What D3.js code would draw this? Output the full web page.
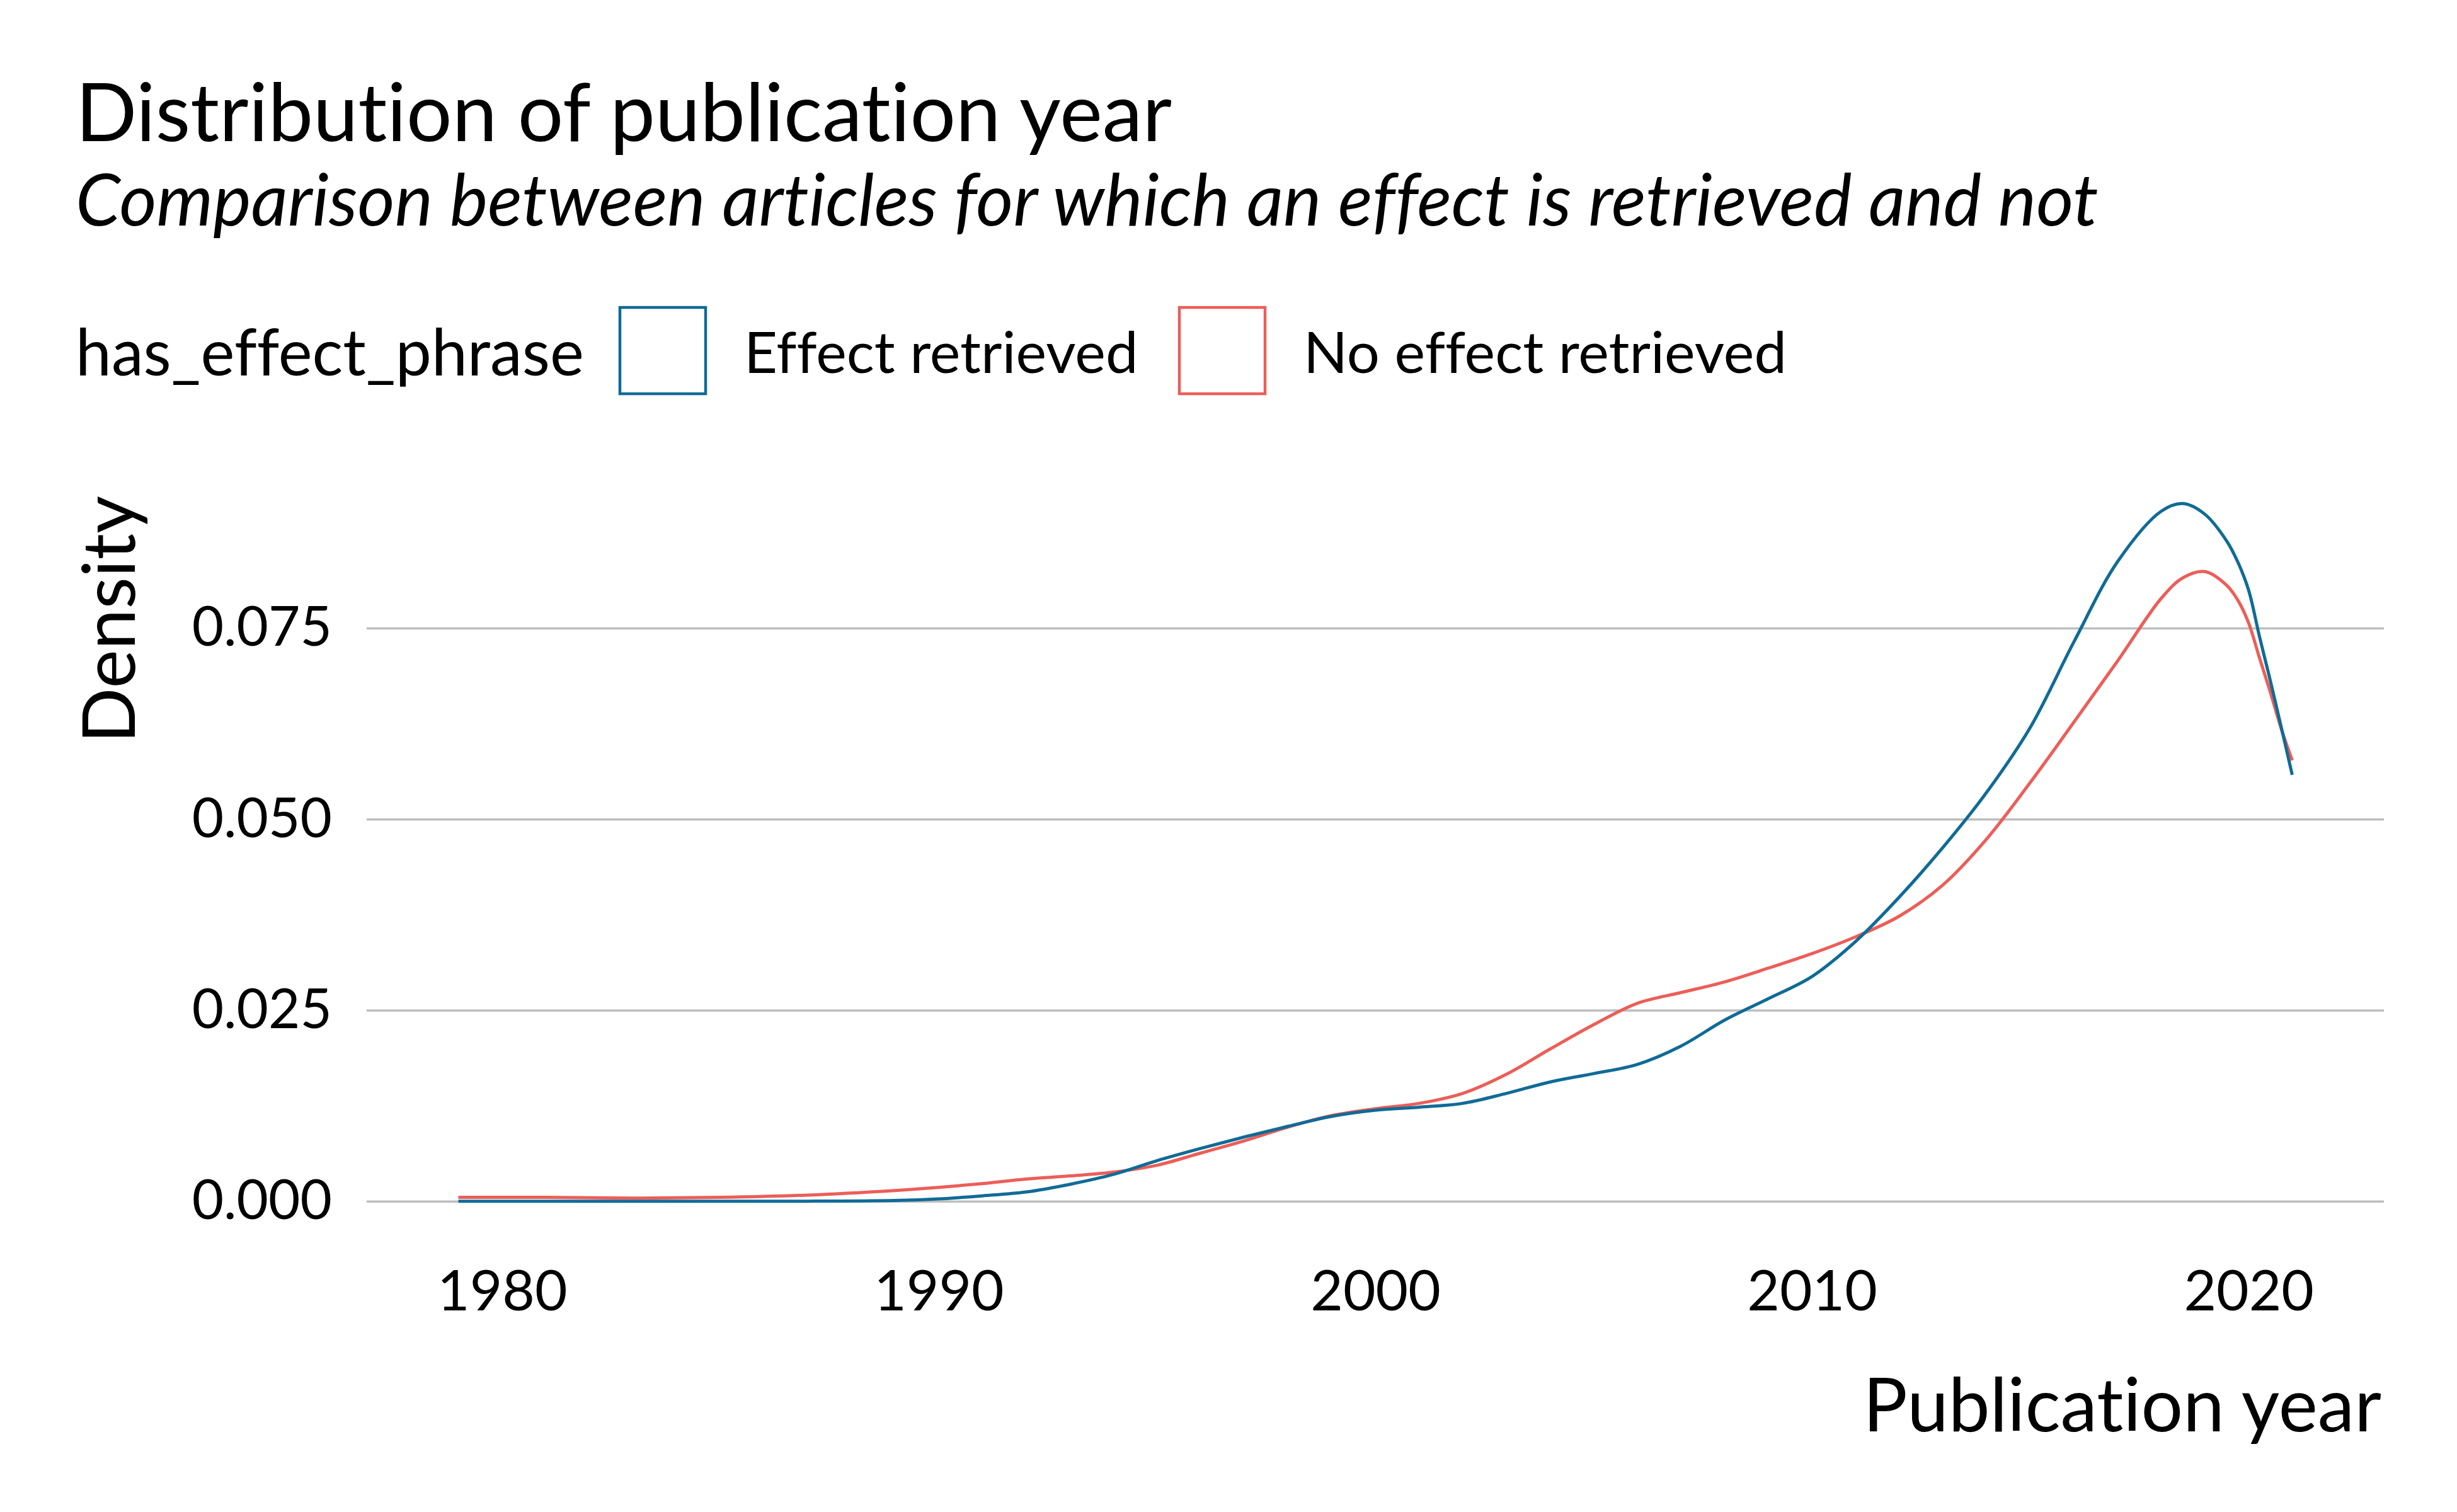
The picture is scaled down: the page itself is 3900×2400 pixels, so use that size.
<!DOCTYPE html>
<html>
<head>
<meta charset="utf-8">
<script src="https://cdn.jsdelivr.net/npm/d3@7"></script>
<style>
  html, body { margin: 0; padding: 0; background: #fff; }
  svg { display: block; font-family: Lato, "Open Sans", sans-serif; font-variant-ligatures: none; }
</style>
</head>
<body>
<div id="chart"></div>
<script>
// density estimates
const years = [1979, 1981, 1983, 1985, 1987, 1989, 1990, 1991, 1992, 1993, 1994, 1995, 1996, 1997, 1998, 1999,
    2000, 2001, 2002, 2003, 2004, 2005, 2006, 2007, 2008, 2009, 2010, 2011, 2012, 2013, 2014, 2015, 2016,
    2017, 2018, 2018.5, 2019, 2019.5, 2019.75, 2020, 2020.25, 2020.5, 2020.75, 2021];
const effectDensity = [0, 0, 0, 0, 0, 0.0001, 0.0003, 0.0007, 0.0012, 0.0022, 0.0035, 0.0053, 0.0069, 0.0084, 0.0098, 0.0111,
    0.0119, 0.0123, 0.0128, 0.0141, 0.0156, 0.0167, 0.0179, 0.0203, 0.0237, 0.0265, 0.0294, 0.0340, 0.0398, 0.0463, 0.0535, 0.0620, 0.0732,
    0.0837, 0.0903, 0.0913, 0.0899, 0.0864, 0.0837, 0.0800, 0.0739, 0.0681, 0.0620, 0.0558];
const noEffectDensity = [0.0005, 0.0005, 0.0004, 0.0005, 0.0008, 0.0014, 0.0018, 0.0023, 0.0029, 0.0033, 0.0038, 0.0047, 0.0063, 0.0079, 0.0097, 0.0112,
    0.0121, 0.0128, 0.0141, 0.0166, 0.0199, 0.0231, 0.0259, 0.0273, 0.0287, 0.0305, 0.0324, 0.0346, 0.0373, 0.0414, 0.0474, 0.0548, 0.0627,
    0.0707, 0.0789, 0.0816, 0.0824, 0.0806, 0.0787, 0.0757, 0.0711, 0.0666, 0.0618, 0.0577];
const seriesNames = ['Effect retrieved', 'No effect retrieved'];
const seriesColors = ['#106b96', '#ec5e58'];
const xTicks = [1980, 1990, 2000, 2010, 2020];
const yTicks = [0, 0.025, 0.05, 0.075];

const W = 3900, H = 2400;
const panel = { left: 582, right: 3784, top: 744, bottom: 1962 };

const svg = d3.select('#chart').append('svg')
    .attr('width', W).attr('height', H);

// ggplot-style 5% expansion
const xExt = d3.extent(years);
const xPad = (xExt[1] - xExt[0]) * 0.05;
const yMax = d3.max(effectDensity.concat(noEffectDensity));
const yPad = yMax * 0.05;

const x = d3.scaleLinear().domain([xExt[0] - xPad, xExt[1] + xPad]).range([panel.left, panel.right]);
const y = d3.scaleLinear().domain([-yPad, yMax + yPad]).range([panel.bottom, panel.top]);

// titles
svg.append('text').attr('x', 120).attr('y', 224)
    .attr('font-size', 128).attr('fill', '#000')
    .text('Distribution of publication year');
svg.append('text').attr('x', 120).attr('y', 358)
    .attr('font-size', 114).attr('font-style', 'italic').attr('fill', '#000')
    .text('Comparison between articles for which an effect is retrieved and not');

// legend
svg.append('text').attr('x', 120).attr('y', 596)
    .attr('font-size', 102).text('has_effect_phrase');
const legendX = [984, 1872];
seriesNames.forEach((name, i) => {
    svg.append('rect')
        .attr('x', legendX[i]).attr('y', 488)
        .attr('width', 136).attr('height', 137)
        .attr('fill', '#fff').attr('stroke', seriesColors[i]).attr('stroke-width', 4.5);
    svg.append('text')
        .attr('x', legendX[i] + 197).attr('y', 592)
        .attr('font-size', 92).text(name);
});

// gridlines + y axis labels
const yAxis = svg.append('g')
    .attr('transform', `translate(${panel.left},0)`)
    .call(d3.axisLeft(y).tickValues(yTicks).tickFormat(d3.format('.3f'))
        .tickSize(-(panel.right - panel.left)).tickPadding(55));
yAxis.select('.domain').remove();
yAxis.selectAll('line').attr('stroke', '#bebebe').attr('stroke-width', 3.5);
yAxis.selectAll('text').attr('font-size', 87).attr('fill', '#000')
    .attr('font-family', 'Lato, sans-serif');

// x axis labels
const xAxis = svg.append('g')
    .attr('transform', `translate(0,${panel.bottom})`)
    .call(d3.axisBottom(x).tickValues(xTicks).tickFormat(d3.format('d')).tickSize(0).tickPadding(55));
xAxis.select('.domain').remove();
xAxis.selectAll('text').attr('font-size', 89).attr('fill', '#000')
    .attr('font-family', 'Lato, sans-serif');

// axis titles
svg.append('text')
    .attr('transform', 'translate(214,787) rotate(-90)')
    .attr('text-anchor', 'end').attr('font-size', 116)
    .text('Density');
svg.append('text')
    .attr('x', panel.right - 4).attr('y', 2272)
    .attr('text-anchor', 'end').attr('font-size', 117.5)
    .text('Publication year');

// density lines
const line = d3.line()
    .x((d, i) => x(years[i]))
    .y(d => y(d))
    .curve(d3.curveCatmullRom.alpha(0.5));

[noEffectDensity, effectDensity].forEach((vals, k) => {
    const color = k === 0 ? seriesColors[1] : seriesColors[0];
    svg.append('path')
        .datum(vals)
        .attr('fill', 'none')
        .attr('stroke', color)
        .attr('stroke-width', 5)
        .attr('d', line);
});
</script>
</body>
</html>
